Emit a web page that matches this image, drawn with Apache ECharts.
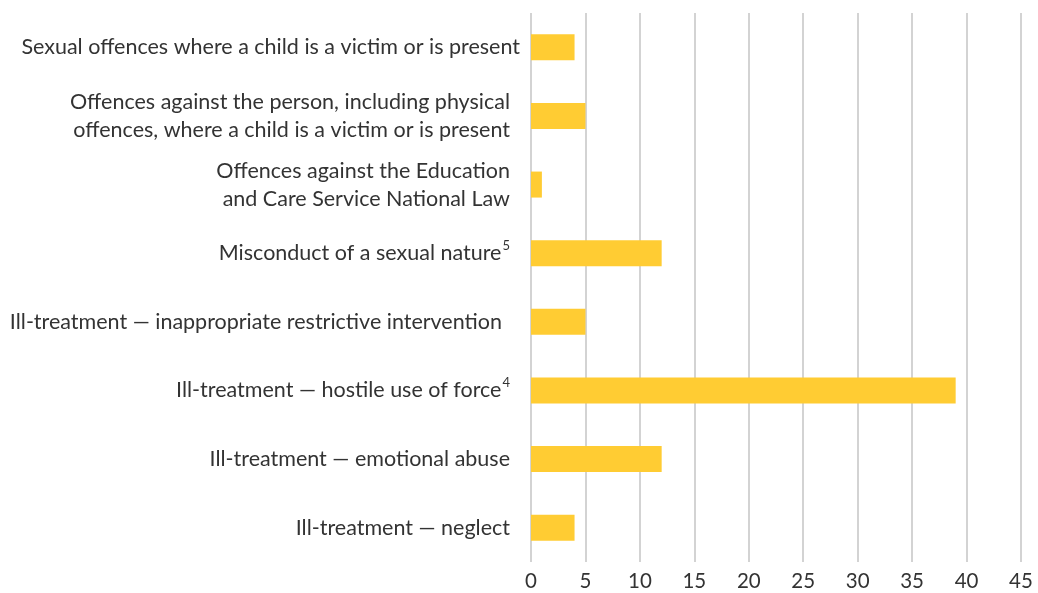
<!DOCTYPE html>
<html>
<head>
<meta charset="utf-8">
<style>
  html, body { margin: 0; padding: 0; background: #ffffff; }
  #chart { width: 1038px; height: 593px; }
</style>
<script src="https://cdn.jsdelivr.net/npm/echarts@6/dist/echarts.min.js"></script>
</head>
<body>
<div id="chart"></div>
<script>
// Categories, listed bottom to top as the category axis draws them
const categories = [
  'Ill-treatment \u2014 neglect',
  'Ill-treatment \u2014 emotional abuse',
  'Ill-treatment \u2014 hostile use of force\u2074',
  'Ill-treatment \u2014 inappropriate restrictive intervention',
  'Misconduct of a sexual nature\u2075',
  'Offences against the Education\nand Care Service National Law',
  'Offences against the person, including physical\noffences, where a child is a victim or is present',
  'Sexual offences where a child is a victim or is present'
];

// Number of matters per category
const counts = [4, 12, 39, 5, 12, 1, 5, 4];

// Value-axis ticks
const tickValues = [0, 5, 10, 15, 20, 25, 30, 35, 40, 45];

// Right padding of each label from the axis
const labelPad = [21, 21, 21, 29, 21, 21, 21, 11];

// Footnote markers drawn as small raised digits
const SUP = { '\u2074': '4', '\u2075': '5' };

function formatLabel(value) {
  return value.split('\n').map(line => {
    let out = '';
    for (const ch of line) {
      out += SUP[ch] ? '{s|' + SUP[ch] + '}' : ch;
    }
    return '{t|' + out.replace(/\{s\|(\d)\}/g, '}{s|$1}{t|') + '}';
  }).join('\n').replace(/\{t\|\}/g, '');
}

const chart = echarts.init(document.getElementById('chart'), null, { renderer: 'canvas' });

chart.setOption({
  animation: false,
  backgroundColor: '#ffffff',
  grid: { left: 531, right: 17, top: 13, bottom: 31, containLabel: false },
  xAxis: {
    type: 'value',
    min: tickValues[0],
    max: tickValues[tickValues.length - 1],
    interval: tickValues[1] - tickValues[0],
    axisLine: { show: false },
    axisTick: { show: false },
    splitLine: { show: true, lineStyle: { color: '#c4c4c4', width: 1.5 } },
    axisLabel: {
      color: '#333333',
      fontFamily: 'Lato',
      fontSize: 20.5,
      margin: 9
    }
  },
  yAxis: {
    type: 'category',
    data: categories.map((c, i) => ({ value: c, textStyle: { padding: [0, labelPad[i], 0, 0] } })),
    axisLine: { show: false },
    axisTick: { show: false },
    splitLine: { show: false },
    axisLabel: {
      color: '#333333',
      fontFamily: 'Lato',
      fontSize: 21.5,
      lineHeight: 28,
      margin: 0,
      align: 'right',
      formatter: formatLabel,
      rich: {
        t: { color: '#333333', fontFamily: 'Lato', fontSize: 21.5, lineHeight: 28 },
        s: { color: '#333333', fontFamily: 'Lato', fontSize: 13, lineHeight: 28, verticalAlign: 'top', padding: [0, 0, 4, 1] }
      }
    }
  },
  series: [{
    type: 'bar',
    data: counts,
    barWidth: 26,
    itemStyle: { color: '#FFCC33' }
  }]
});
</script>
</body>
</html>
